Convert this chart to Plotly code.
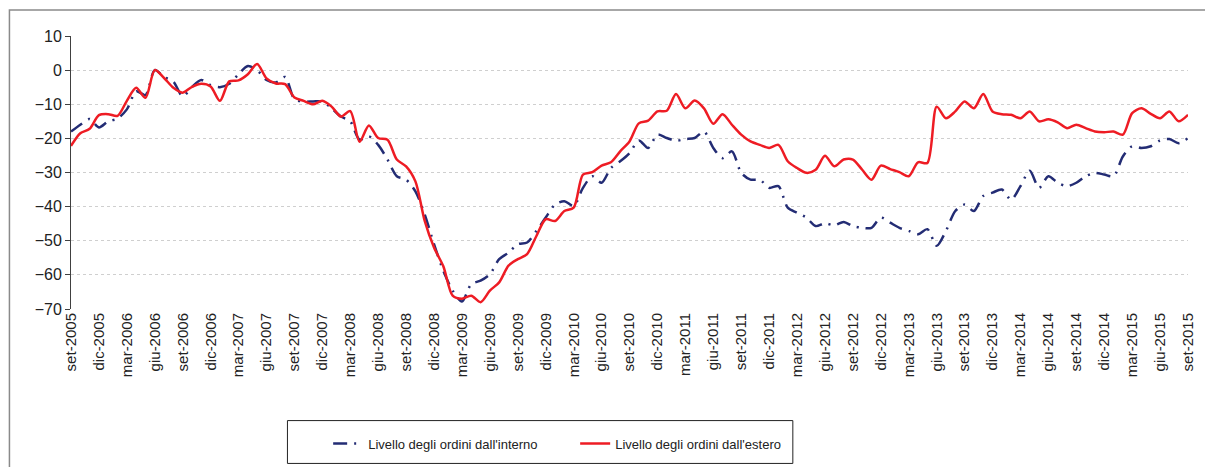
import plotly.graph_objects as go

# Monthly tick labels, one every quarter (set-2005 ... set-2015)
tick_labels = [
    "set-2005", "dic-2005", "mar-2006", "giu-2006", "set-2006", "dic-2006",
    "mar-2007", "giu-2007", "set-2007", "dic-2007", "mar-2008", "giu-2008",
    "set-2008", "dic-2008", "mar-2009", "giu-2009", "set-2009", "dic-2009",
    "mar-2010", "giu-2010", "set-2010", "dic-2010", "mar-2011", "giu-2011",
    "set-2011", "dic-2011", "mar-2012", "giu-2012", "set-2012", "dic-2012",
    "mar-2013", "giu-2013", "set-2013", "dic-2013", "mar-2014", "giu-2014",
    "set-2014", "dic-2014", "mar-2015", "giu-2015", "set-2015",
]

# Livello degli ordini dall'interno (saldi, set-2005 .. set-2015)
interno = [
    -18, -16, -14.3, -16.8, -15, -14.2, -11.5, -6.2, -7.3, 0,
    -2, -3.4, -7.7, -4.9, -2.9, -4.4, -5, -4, -1.2, 1.2,
    0, -2.9, -3.6, -2, -8.5, -9.2, -9.2, -9.2, -11.2, -13.6,
    -15, -20.4, -19.4, -21.9, -26.2, -31.1, -32.1, -35.5, -42.3, -51,
    -58.8, -64.6, -67.8, -62.7, -61.7, -59.8, -55.4, -53.5, -51, -50.5,
    -47.1, -43.2, -39.4, -38.4, -39.8, -34.5, -31.1, -33, -28.7, -26.7,
    -24.3, -20.6, -22.8, -18.9, -19.9, -20.7, -20.2, -19.9, -18, -22.8,
    -25.8, -23.8, -30.1, -32.1, -32.1, -34.5, -34, -40.3, -41.8, -43.2,
    -45.7, -44.9, -45.5, -44.5, -45.7, -46.2, -46.2, -43.2, -44.7, -46.2,
    -47.1, -48.1, -46.6, -51.5, -47.1, -41.3, -39.4, -41.3, -36.9, -35.9,
    -35, -38, -34, -29.5, -34.5, -31.1, -33, -34, -33, -31.1,
    -30.1, -30.6, -31.1, -25.3, -22.3, -22.8, -22.3, -20.6, -20.2, -21.4,
    -19.9,
]

# Livello degli ordini dall'estero
estero = [
    -22.2, -18.5, -17.2, -13.2, -12.9, -13.4, -9, -5.2, -8.1, 0,
    -2.3, -5.2, -6.6, -4.9, -4, -4.8, -9, -3.3, -3, -1.2,
    1.8, -2.4, -3.9, -4.1, -8, -9, -10, -9, -10.7, -13.6,
    -12, -21, -16.2, -19.9, -20.4, -26.2, -28.2, -32.6, -44.2, -52,
    -57.5, -66.1, -67, -66.1, -68, -64.6, -62.2, -57.3, -55.4, -53.9,
    -48.6, -43.7, -44.2, -41.3, -40.3, -30.6, -29.9, -28, -27, -23.8,
    -20.9, -15.6, -14.8, -12.1, -11.9, -7, -11.2, -8.9, -11.2, -15.7,
    -12.9, -16, -18.9, -20.9, -21.9, -22.8, -21.9, -26.7, -28.7, -30.1,
    -29.2, -25.1, -28.2, -26.2, -26.2, -29.2, -32.1, -28, -29, -29.9,
    -31.1, -27, -27.2, -10.7, -14.1, -12.1, -9.2, -11.2, -7, -12.1,
    -12.9, -13.1, -14.1, -12.1, -15, -14.4, -15.3, -17, -16, -17,
    -18, -18.2, -18, -18.9, -12.6, -11.2, -12.8, -14.1, -12.1, -15,
    -13.1,
]

months = list(range(len(interno)))
tick_pos = months[::3]

FONT = "Liberation Sans, Arial, sans-serif"
TEXT = "#222222"
AXIS = "#404040"

# plot area in pixels: x 71..1196, y 36..310
L, R, T, B = 71, 9, 36, 157
W, H = 1205, 467
PW, PH = W - L - R, H - T - B


def px_x(px):
    return (px - L) / PW


def px_y(py):
    return (H - B - py) / PH


fig = go.Figure()
fig.add_trace(go.Scatter(
    x=months, y=interno, mode="lines", name="Livello degli ordini dall'interno",
    line=dict(color="#232c74", width=2.5, dash="14px,7px,2px,7px", shape="spline", smoothing=0.8),
))
fig.add_trace(go.Scatter(
    x=months, y=estero, mode="lines", name="Livello degli ordini dall'estero",
    line=dict(color="#ee1c24", width=2.5, shape="spline", smoothing=0.8),
))

fig.update_layout(
    width=W, height=H,
    margin=dict(l=L, r=R, t=T, b=B),
    paper_bgcolor="white", plot_bgcolor="white",
    font=dict(family=FONT, size=15, color=TEXT),
    showlegend=True,
    legend=dict(
        orientation="h", x=px_x(330), y=px_y(430), xanchor="left", yanchor="top",
        font=dict(family=FONT, size=13, color=TEXT),
        borderwidth=0, bgcolor="rgba(0,0,0,0)",
        entrywidth=202, entrywidthmode="pixels",
    ),
    xaxis=dict(
        range=[0, 120], tickmode="array", tickvals=tick_pos, ticktext=tick_labels,
        tickangle=-90, ticks="", showline=False, showgrid=False, zeroline=False,
        ticklabeloverflow="allow",
        tickfont=dict(family=FONT, size=15, color=TEXT),
    ),
    # horizontal axis line drawn at the zero level, with quarterly ticks
    xaxis2=dict(
        range=[0, 120], overlaying="x", anchor="free", position=px_y(70),
        tickmode="array", tickvals=tick_pos, showticklabels=False,
        ticks="outside", ticklen=6, tickwidth=1, tickcolor=AXIS,
        showline=True, linecolor=AXIS, linewidth=1.5, showgrid=False, zeroline=False,
    ),
    yaxis=dict(
        range=[-70, 10], tickmode="array", tickvals=list(range(-70, 11, 10)),
        ticks="outside", ticklen=5, tickcolor=AXIS,
        showline=True, linecolor=AXIS, linewidth=1,
        showgrid=True, gridcolor="#cfcfcf", griddash="dot", gridwidth=1,
        zeroline=False, tickfont=dict(family=FONT, size=16, color=TEXT),
    ),
    shapes=[
        # outer frame (runs past the right and bottom edges of the page)
        dict(type="rect", xref="paper", yref="paper",
             x0=px_x(9), x1=px_x(1215), y0=px_y(480), y1=px_y(10),
             line=dict(color="#8a8a8a", width=1.5), layer="below"),
        # legend box
        dict(type="rect", xref="paper", yref="paper",
             x0=px_x(289), x1=px_x(798), y0=px_y(465), y1=px_y(422),
             line=dict(color="#222222", width=1), layer="below"),
    ],
)

fig.write_html("out.html")
